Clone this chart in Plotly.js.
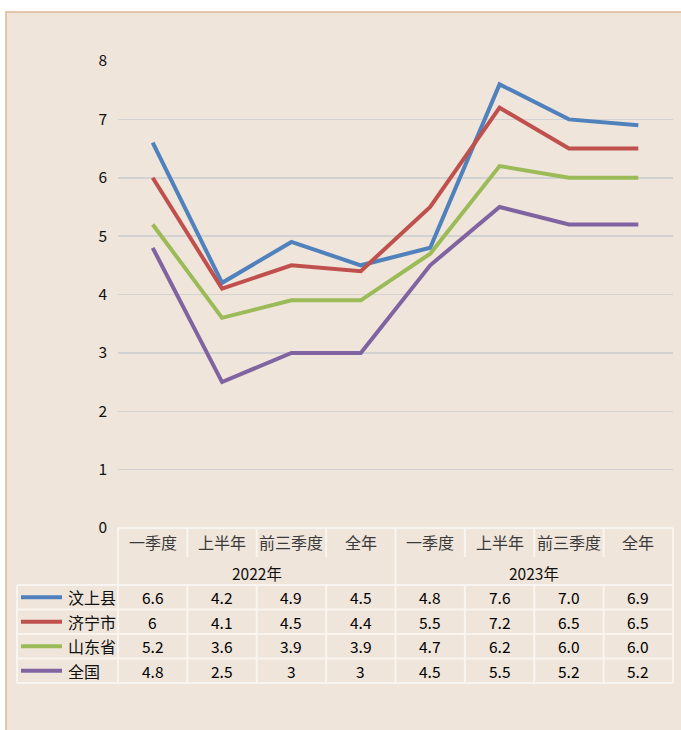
<!DOCTYPE html>
<html>
<head>
<meta charset="utf-8">
<script src="https://cdn.plot.ly/plotly-3.0.1.min.js"></script>
<style>html,body{margin:0;padding:0;background:#fff;}#chart{width:681px;height:730px;}</style>
</head>
<body>
<div id="chart"></div>
<script>
// ---- data ----
const categories = ["一季度", "上半年", "前三季度", "全年", "一季度", "上半年", "前三季度", "全年"];
const years = ["2022年", "2023年"];
const seriesNames = ["汶上县", "济宁市", "山东省", "全国"];
const wenshang = [6.6, 4.2, 4.9, 4.5, 4.8, 7.6, 7.0, 6.9];
const jining   = [6, 4.1, 4.5, 4.4, 5.5, 7.2, 6.5, 6.5];
const shandong = [5.2, 3.6, 3.9, 3.9, 4.7, 6.2, 6.0, 6.0];
const quanguo  = [4.8, 2.5, 3, 3, 4.5, 5.5, 5.2, 5.2];
const tableText = [
  ["6.6", "4.2", "4.9", "4.5", "4.8", "7.6", "7.0", "6.9"],
  ["6", "4.1", "4.5", "4.4", "5.5", "7.2", "6.5", "6.5"],
  ["5.2", "3.6", "3.9", "3.9", "4.7", "6.2", "6.0", "6.0"],
  ["4.8", "2.5", "3", "3", "4.5", "5.5", "5.2", "5.2"]
];
const yTicks = [0, 1, 2, 3, 4, 5, 6, 7, 8];

// ---- style / layout ----
const colors = ["#4F81BD", "#C0504D", "#9BBB59", "#8064A2"];
const bg = "#EFE5DA";
const W = 681, H = 730;
const L = 118, R = 673, T = 61, B = 528;
const pw = R - L, ph = B - T;
const px = x => (x - L) / pw;          // pixel -> paper x
const py = y => (B - y) / ph;          // pixel -> paper y
const font = "'Noto Sans CJK SC', 'Noto Sans', sans-serif";

const allSeries = [wenshang, jining, shandong, quanguo];
const xs = categories.map((c, i) => i);

const traces = allSeries.map((vals, k) => ({
  type: "scatter", mode: "lines",
  x: xs, y: vals, name: seriesNames[k],
  line: {color: colors[k], width: 4},
  hoverinfo: "skip"
}));

const shapes = [];
const annotations = [];
const gridC = "#F8F5F1";
// frame
shapes.push({type: "rect", xref: "paper", yref: "paper", layer: "below",
  x0: px(6), x1: px(700), y0: py(750), y1: py(12),
  fillcolor: bg, line: {color: "#DDB897", width: 1.5}});

// table geometry (pixels)
const rowTops = [585, 609.5, 634, 658.5];
const rowH = 24.5;
const tableBottom = 683;
const hdrBottom = 557;
const legL = 17;
const colW = pw / categories.length;

function hline(y, x0, x1) {
  shapes.push({type: "line", xref: "paper", yref: "paper", x0: px(x0), x1: px(x1), y0: py(y), y1: py(y), line: {color: gridC, width: 2}});
}
function vline(x, y0, y1) {
  shapes.push({type: "line", xref: "paper", yref: "paper", x0: px(x), x1: px(x), y0: py(y0), y1: py(y1), line: {color: gridC, width: 2}});
}
hline(B, L, R);
rowTops.forEach(y => hline(y, legL, R));
hline(tableBottom, legL, R);
vline(legL, 585, tableBottom);
vline(L, B, tableBottom);
vline(R, B, tableBottom);
for (let i = 1; i < categories.length; i++) {
  const x = L + i * colW;
  if (i === 4) vline(x, B, tableBottom);
  else { vline(x, B, hdrBottom); vline(x, 585, tableBottom); }
}

// category labels
categories.forEach((c, i) => {
  annotations.push({xref: "x", yref: "paper", x: i, y: py(542), text: c, showarrow: false,
    font: {family: font, size: 16, color: "#3a3a3a"}, xanchor: "center", yanchor: "middle"});
});
// year labels
years.forEach((yr, j) => {
  annotations.push({xref: "x", yref: "paper", x: j * 4 + 1.5, y: py(573), text: yr, showarrow: false,
    font: {family: font, size: 15.5, color: "#111"}, xanchor: "center", yanchor: "middle"});
});
// legend rows + values
seriesNames.forEach((n, k) => {
  const yc = rowTops[k] + rowH / 2;
  shapes.push({type: "line", xref: "paper", yref: "paper", x0: px(21), x1: px(62), y0: py(yc), y1: py(yc),
    line: {color: colors[k], width: 4}});
  annotations.push({xref: "paper", yref: "paper", x: px(66), y: py(yc), text: n, showarrow: false,
    font: {family: font, size: 16, color: "#111"}, xanchor: "left", yanchor: "middle"});
  tableText[k].forEach((t, i) => {
    annotations.push({xref: "x", yref: "paper", x: i, y: py(yc), text: t, showarrow: false,
      font: {family: font, size: 15.5, color: "#000"}, xanchor: "center", yanchor: "middle"});
  });
});

const layout = {
  width: W, height: H,
  margin: {l: L, r: W - R, t: T, b: H - B, pad: 0},
  paper_bgcolor: "#ffffff",
  plot_bgcolor: "rgba(0,0,0,0)",
  showlegend: false,
  xaxis: {range: [-0.5, categories.length - 0.5], showgrid: false, zeroline: false,
    showticklabels: false, showline: false, fixedrange: true},
  yaxis: {range: [0, 8], tickvals: yTicks, ticktext: yTicks.map(String), showgrid: true,
    gridcolor: "#D2D2D2", gridwidth: 1.5, zeroline: false, showline: false, ticks: "",
    ticklabelstandoff: 10,
    tickfont: {family: font, size: 15.5, color: "#111"}, fixedrange: true},
  shapes: shapes,
  annotations: annotations
};

Plotly.newPlot("chart", traces, layout, {displayModeBar: false, staticPlot: true});
</script>
</body>
</html>
